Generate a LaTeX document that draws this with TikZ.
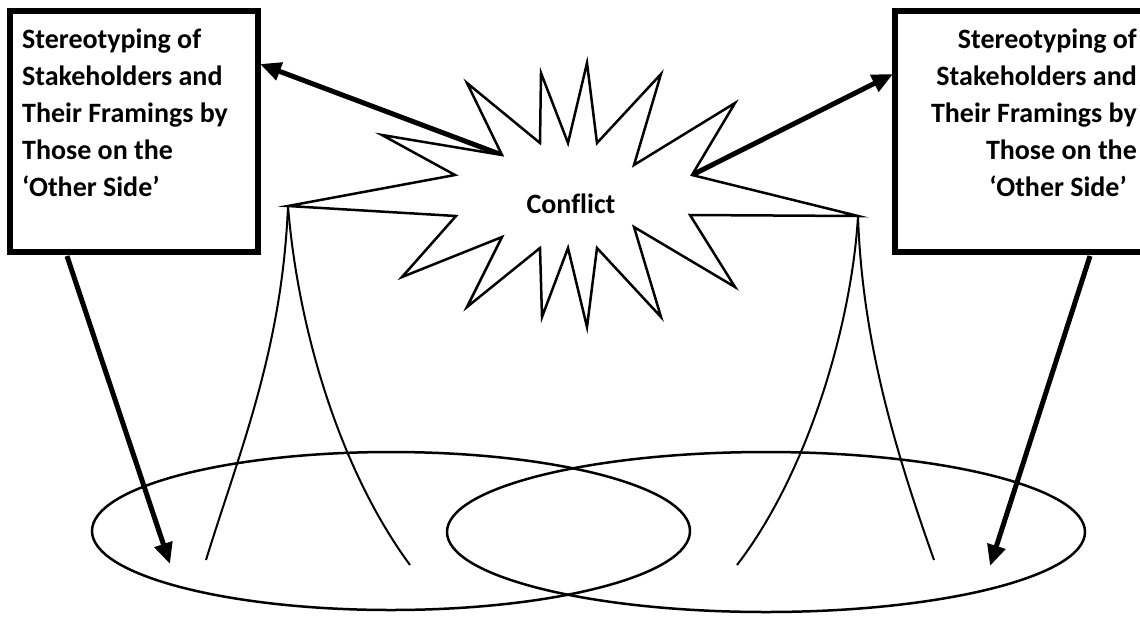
\documentclass[tikz,border=0pt]{standalone}
\usepackage{fontspec}
\setmainfont{Carlito}[Ligatures=NoCommon]
\usetikzlibrary{arrows.meta}
\begin{document}
\begin{tikzpicture}[x=1pt,y=-1pt,
  frame/.style={draw, line width=5.5pt, rectangle, inner sep=0pt},
  thickarrow/.style={line width=5pt, -{Triangle[length=21pt,width=18pt]}},
  burst/.style={line width=2.5pt, line join=miter, miter limit=20, fill=white},
  stem/.style={line width=2pt},
  ring/.style={line width=2.5pt},
  lbl/.style={font=\fontsize{28}{37}\selectfont\bfseries, inner sep=0pt}]
\useasboundingbox (0,0) rectangle (1140,635);
\clip (0,0) rectangle (1140,635);
% boxes
\node[frame, minimum width=248pt, minimum height=241pt] (lbox) at (134,131.5) {};
\node[frame, minimum width=270pt, minimum height=241pt] (rbox) at (1030,131.5) {};
\node[lbl, anchor=base west] (ltext) at (22,48) {\begin{tabular}[t]{@{}l@{}}Stereotyping of\\Stakeholders and\\Their Framings by\\Those on the\\‘Other Side’\end{tabular}};
\node[lbl, anchor=base east] (rtext) at (1137,48) {\begin{tabular}[t]{@{}r@{}}Stereotyping of\\Stakeholders and\\Their Framings by\\Those on the\\‘Other Side’\hspace*{10pt}\end{tabular}};
% ellipses
\draw[ring] (391,531) ellipse [x radius=299pt, y radius=79pt];
\draw[ring] (766,532) ellipse [x radius=319pt, y radius=80pt];
% starburst vertices
\coordinate (s1) at (288,206);
\coordinate (s2) at (455,175);
\coordinate (s3) at (382,135);
\coordinate (s4) at (502,155);
\coordinate (s5) at (467,83);
\coordinate (s6) at (540,143);
\coordinate (s7) at (541,73);
\coordinate (s8) at (568,143);
\coordinate (s9) at (587,63);
\coordinate (s10) at (597,143);
\coordinate (s11) at (661,74);
\coordinate (s12) at (634,165);
\coordinate (s13) at (735,103);
\coordinate (s14) at (692,175);
\coordinate (s15) at (858,216);
\coordinate (s16) at (690,215);
\coordinate (s17) at (735,287);
\coordinate (s18) at (634,227);
\coordinate (s19) at (661,317);
\coordinate (s20) at (597,248);
\coordinate (s21) at (587,327);
\coordinate (s22) at (568,248);
\coordinate (s23) at (542,317);
\coordinate (s24) at (540,248);
\coordinate (s25) at (467,307);
\coordinate (s26) at (502,237);
\coordinate (s27) at (402,277);
\coordinate (s28) at (456,216);
% arrows from burst to boxes
\coordinate (ltip) at (260,64);
\coordinate (rtip) at (893,74);
\draw[thickarrow] (s4) -- (ltip);
\draw[thickarrow] (s14) -- (rtip);
\draw[burst] (s1) -- (s2) -- (s3) -- (s4) -- (s5) -- (s6) -- (s7) -- (s8) -- (s9) -- (s10) -- (s11) -- (s12) -- (s13) -- (s14) -- (s15) -- (s16) -- (s17) -- (s18) -- (s19) -- (s20) -- (s21) -- (s22) -- (s23) -- (s24) -- (s25) -- (s26) -- (s27) -- (s28) -- cycle;
\node[lbl, anchor=base] (conflict) at (571,213) {Conflict};
% stems
\coordinate (a1) at (206,560);
\coordinate (a2) at (410,565);
\coordinate (b1) at (737,565);
\coordinate (b2) at (934,560);
\draw[stem] (s1) .. controls (282,350) and (240,450) .. (a1);
\draw[stem] (s1) .. controls (298,330) and (340,470) .. (a2);
\draw[stem] (s15) .. controls (852,320) and (810,470) .. (b1);
\draw[stem] (s15) .. controls (862,340) and (895,450) .. (b2);
% down arrows
\coordinate (ld0) at (67,256);
\coordinate (ld1) at (170,564);
\coordinate (rd0) at (1090,256);
\coordinate (rd1) at (990,566);
\draw[thickarrow] (ld0) -- (ld1);
\draw[thickarrow] (rd0) -- (rd1);
\end{tikzpicture}
\end{document}
